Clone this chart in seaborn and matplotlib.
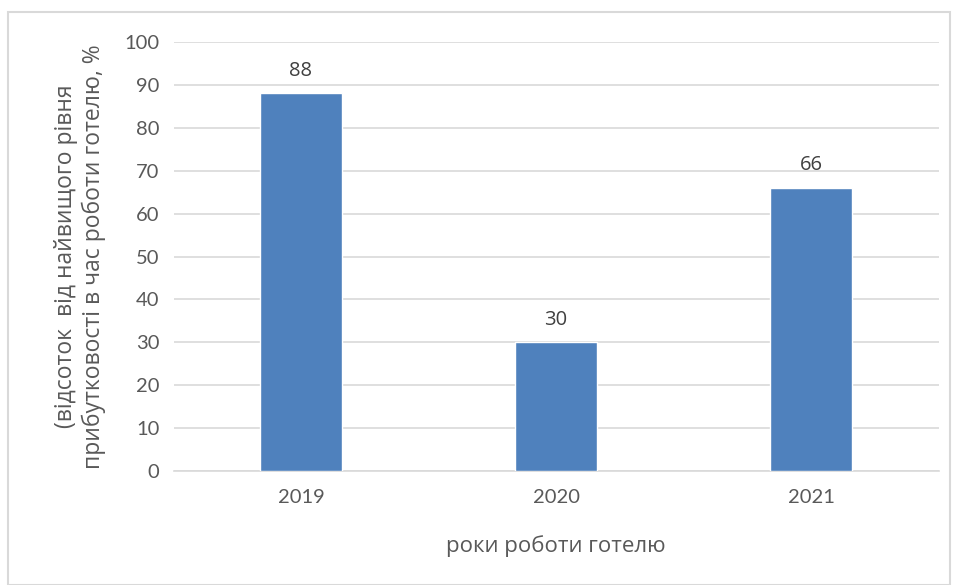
import matplotlib
matplotlib.use("Agg")
import matplotlib.pyplot as plt
import seaborn as sns
import pandas as pd
from matplotlib.patches import Rectangle

years = ["2019", "2020", "2021"]
values = [88, 30, 66]
y_ticks = [0, 10, 20, 30, 40, 50, 60, 70, 80, 90, 100]
x_label = "роки роботи готелю"
y_label = "(відсоток  від найвищого рівня\nприбутковості в час роботи готелю, %"

sns.set_theme(style="white")
plt.rcParams['font.family'] = ['Open Sans', 'DejaVu Sans']

df = pd.DataFrame({"year": years, "value": values})

fig = plt.figure(figsize=(9.55, 5.85), dpi=100)
ax = fig.add_axes([173.5/955, 1-471/585, (938.5-173.5)/955, (471-42)/585])

sns.barplot(data=df, x="year", y="value", color="#4f81bd", saturation=1,
            width=0.32, ax=ax, zorder=3)

ax.set_ylim(0, 100)
ax.set_yticks(y_ticks)
ax.set_yticklabels([str(t) for t in y_ticks])
ax.yaxis.grid(True, color="#d9d9d9", linewidth=1.2, zorder=0)
ax.xaxis.grid(False)
for s in ["top", "right", "left"]:
    ax.spines[s].set_visible(False)
ax.spines["bottom"].set_color("#d9d9d9")
ax.spines["bottom"].set_linewidth(1.2)
ax.tick_params(axis="both", length=0, labelcolor="#595959")
ax.tick_params(axis="y", pad=10)
ax.tick_params(axis="x", pad=13)

for lab in ax.get_xticklabels() + ax.get_yticklabels():
    lab.set_family(['Lato', 'DejaVu Sans'])
    lab.set_fontsize(14.5)

for i, v in enumerate(values):
    ax.annotate(str(v), (i, v), xytext=(0, 9), textcoords="offset points",
                ha="center", va="bottom", fontsize=14.5, color="#404040",
                family=['Open Sans', 'DejaVu Sans'])

ax.set_xlabel(x_label, fontsize=16, color="#595959", labelpad=21)
ax.set_ylabel(y_label, fontsize=16.5, color="#595959", labelpad=13,
              linespacing=1.2)

fig.patches.append(Rectangle((8/955, 0), 942/955, 1-12/585, transform=fig.transFigure,
                             fill=False, edgecolor="#d9d9d9", linewidth=1.5))

fig.savefig("out.png", dpi=100)
